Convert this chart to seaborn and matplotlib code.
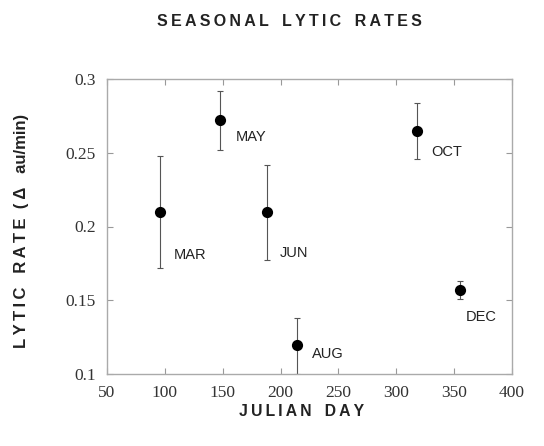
import matplotlib
matplotlib.use("Agg")
import matplotlib.pyplot as plt
import seaborn as sns
import pandas as pd

# values
months = ["MAR", "MAY", "JUN", "AUG", "OCT", "DEC"]
julian_day = [96, 148, 188, 214, 318, 355]
lytic_rate = [0.210, 0.272, 0.210, 0.120, 0.265, 0.157]
err_low = [0.172, 0.252, 0.177, 0.100, 0.246, 0.151]
err_high = [0.248, 0.292, 0.242, 0.138, 0.284, 0.163]

# label offsets in pixels (text left edge / center relative to the dot)
label_dx = [14, 15, 13, 15, 14, 6]
label_dy = [-43, -17, -41, -10, -21, -27]

df = pd.DataFrame({"month": months, "day": julian_day, "rate": lytic_rate,
                   "lo": err_low, "hi": err_high})

sns.set_style("ticks")

fig = plt.figure(figsize=(5.44, 4.46), dpi=100)
ax = fig.add_axes([107 / 544, 1 - 374 / 446, (512 - 107) / 544, (374 - 79) / 446])

ax.errorbar(df["day"], df["rate"],
            yerr=[df["rate"] - df["lo"], df["hi"] - df["rate"]],
            fmt="none", ecolor="#555555", elinewidth=0.8, capsize=2.5, capthick=0.8)
sns.scatterplot(data=df, x="day", y="rate", ax=ax, color="black", s=65,
                edgecolor="black", linewidth=0, zorder=3)

for m, x, y, dx, dy in zip(months, julian_day, lytic_rate, label_dx, label_dy):
    ax.annotate(m, (x, y), xytext=(dx, dy), textcoords="offset pixels",
                ha="left", va="center", fontsize=10.5, family="Liberation Sans",
                color="#222222")

ax.set_xlim(50, 400)
ax.set_ylim(0.1, 0.3)
ax.set_xticks(range(50, 401, 50))
ax.set_yticks([0.1, 0.15, 0.2, 0.25, 0.3])
ax.set_yticklabels(["0.1", "0.15", "0.2", "0.25", "0.3"])
ax.tick_params(direction="in", length=4, color="#999999", top=True, right=True,
               labelsize=12.5, pad=8)
for lbl in ax.get_xticklabels() + ax.get_yticklabels():
    lbl.set_family("Liberation Serif")
    lbl.set_color("#333333")
for sp in ax.spines.values():
    sp.set_color("#aaaaaa")
    sp.set_linewidth(1.0)

ax.set_xlabel("")
ax.set_ylabel("")


def spaced(s):
    # letter spacing like the original typesetting
    return "   ".join("\u2009".join(w) for w in s.split(" "))


fig.text(289 / 544, 1 - 22 / 446, spaced("SEASONAL LYTIC RATES"),
         ha="center", va="center", fontsize=11.5, fontweight="bold",
         family="Liberation Sans", color="#222222")
fig.text(302 / 544, 1 - 412 / 446, spaced("JULIAN DAY"), ha="center", va="center",
         fontsize=11.3, fontweight="bold", family="Liberation Sans", color="#222222")
fig.text(22 / 544, 1 - 231 / 446, spaced("LYTIC RATE") + "  ( \u0394   au/min)",
         ha="center", va="center", rotation=90, fontsize=12, fontweight="bold",
         family="Liberation Sans", color="#222222")

fig.savefig("out.png", dpi=100)
